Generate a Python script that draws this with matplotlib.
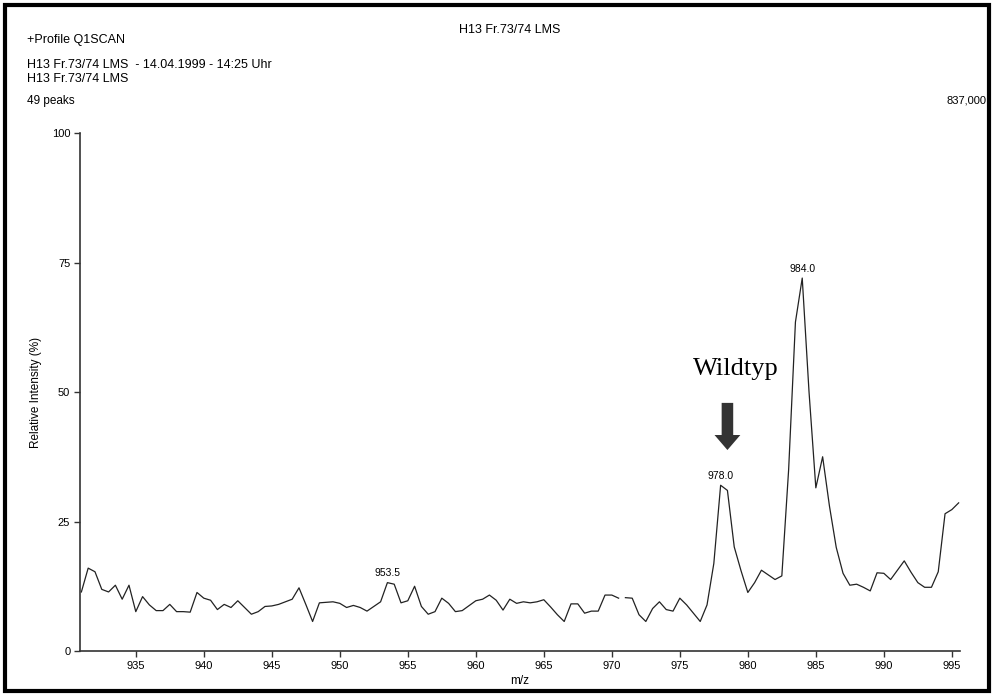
import matplotlib.pyplot as plt
import numpy as np
from matplotlib.patches import FancyArrow, Rectangle

# spectrum (m/z, relative intensity in %); nan = break in the trace
mz = [931.0, 931.5, 932.0, 932.5, 933.0, 933.5, 934.0, 934.5, 935.0, 935.5,
      936.0, 936.5, 937.0, 937.5, 938.0, 938.5, 939.0, 939.5, 940.0, 940.5,
      941.0, 941.5, 942.0, 942.5, 943.0, 943.5, 944.0, 944.5, 945.0, 945.5,
      946.0, 946.5, 947.0, 947.5, 948.0, 948.5, 949.5, 950.0, 950.5, 951.0,
      951.5, 952.0, 953.0, 953.5, 954.0, 954.5, 955.0, 955.5, 956.0, 956.5,
      957.0, 957.5, 958.0, 958.5, 959.0, 960.0, 960.5, 961.0, 961.5, 962.0,
      962.5, 963.0, 963.5, 964.0, 964.5, 965.0, 965.5, 966.0, 966.5, 967.0,
      967.5, 968.0, 968.5, 969.0, 969.5, 970.0, 970.5, 970.8, 971.0, 971.5,
      972.0, 972.5, 973.0, 973.5, 974.0, 974.5, 975.0, 975.5, 976.0, 976.5,
      977.0, 977.5, 978.0, 978.5, 979.0, 979.5, 980.0, 980.5, 981.0, 981.5,
      982.0, 982.5, 983.0, 983.5, 984.0, 984.5, 985.0, 985.5, 986.0, 986.5,
      987.0, 987.5, 988.0, 988.5, 989.0, 989.5, 990.0, 990.5, 991.0, 991.5,
      992.0, 992.5, 993.0, 993.5, 994.0, 994.5, 995.0, 995.5]
intensity = [11.4, 16.0, 15.3, 11.9, 11.4, 12.7, 10.0, 12.7, 7.6, 10.5,
             8.9, 7.8, 7.8, 9.0, 7.6, 7.6, 7.5, 11.3, 10.2, 9.8,
             8.0, 9.0, 8.4, 9.7, 8.4, 7.1, 7.6, 8.6, 8.7, 9.0,
             9.5, 10.0, 12.2, 9.0, 5.7, 9.3, 9.5, 9.2, 8.4, 8.8,
             8.4, 7.7, 9.5, 13.2, 12.9, 9.3, 9.7, 12.5, 8.6, 7.1,
             7.6, 10.2, 9.2, 7.6, 7.8, 9.7, 10.0, 10.8, 9.8, 7.9,
             10.0, 9.2, 9.5, 9.3, 9.5, 9.9, 8.5, 7.0, 5.7, 9.1,
             9.1, 7.3, 7.7, 7.7, 10.8, 10.8, 10.2, np.nan, 10.3, 10.2,
             7.0, 5.7, 8.2, 9.5, 8.0, 7.7, 10.2, 8.9, 7.3, 5.7,
             8.9, 16.9, 32.0, 31.0, 20.1, 15.5, 11.3, 13.2, 15.6, 14.7,
             13.8, 14.5, 35.0, 63.5, 72.0, 50.0, 31.5, 37.5, 28.0, 20.0,
             15.0, 12.7, 12.9, 12.3, 11.6, 15.1, 15.0, 13.8, 15.6, 17.4,
             15.2, 13.2, 12.3, 12.3, 15.3, 26.5, 27.3, 28.6]

peak_mz = [953.5, 978.0, 984.0]
peak_int = [13.2, 32.0, 72.0]
peak_labels = ["953.5", "978.0", "984.0"]

xticks = [935, 940, 945, 950, 955, 960, 965, 970, 975, 980, 985, 990, 995]
yticks = [0, 25, 50, 75, 100]

plt.rcParams['font.family'] = ['Liberation Sans', 'DejaVu Sans']

fig = plt.figure(figsize=(9.94, 6.95), dpi=100)
ax = fig.add_axes([0.0805, 0.0633, 0.8853, 0.7453])

ax.plot(mz, intensity, color='#222222', lw=0.9)

for x, y, lab in zip(peak_mz, peak_int, peak_labels):
    ax.annotate(lab, (x, y), xytext=(0, 3), textcoords='offset points',
                ha='center', va='bottom', fontsize=7.5)

ax.set_xlim(930.9, 995.6)
ax.set_ylim(0, 100)
ax.set_xticks(xticks)
ax.set_yticks(yticks)
ax.tick_params(labelsize=8, length=4, width=1, color='#333333', pad=3)
for s in ['top', 'right']:
    ax.spines[s].set_visible(False)
for s in ['left', 'bottom']:
    ax.spines[s].set_color('#333333')
    ax.spines[s].set_linewidth(1.2)
ax.patch.set_visible(False)

ax.set_xlabel('m/z', fontsize=8.5, labelpad=3)
ax.set_ylabel('Relative Intensity (%)', fontsize=8.5, labelpad=7)

# arrow pointing at the wild-type peak
ax.add_patch(FancyArrow(978.5, 47.9, 0, -9.1, width=0.85, head_width=1.9,
                        head_length=2.9, length_includes_head=True,
                        color='#333333', lw=0))
ax.text(979.1, 54.5, 'Wildtyp', family=['Liberation Serif', 'DejaVu Serif'],
        fontsize=19, ha='center', va='center')

# header lines of the instrument printout
fig.text(0.027, 0.9424, '+Profile Q1SCAN', fontsize=9, va='center')
fig.text(0.027, 0.9065, 'H13 Fr.73/74 LMS  - 14.04.1999 - 14:25 Uhr',
         fontsize=9, va='center')
fig.text(0.027, 0.8863, 'H13 Fr.73/74 LMS', fontsize=9, va='center')
fig.text(0.027, 0.8547, '49 peaks', fontsize=8.5, va='center')
fig.text(0.513, 0.9568, 'H13 Fr.73/74 LMS', fontsize=9, ha='center', va='center')
fig.text(0.992, 0.8547, '837,000', fontsize=8, ha='right', va='center')

fig.patches.append(Rectangle((0.0055, 0.006), 0.9895, 0.987,
                             transform=fig.transFigure, fill=False,
                             lw=3, ec='black'))

fig.savefig('out.png', dpi=100)
